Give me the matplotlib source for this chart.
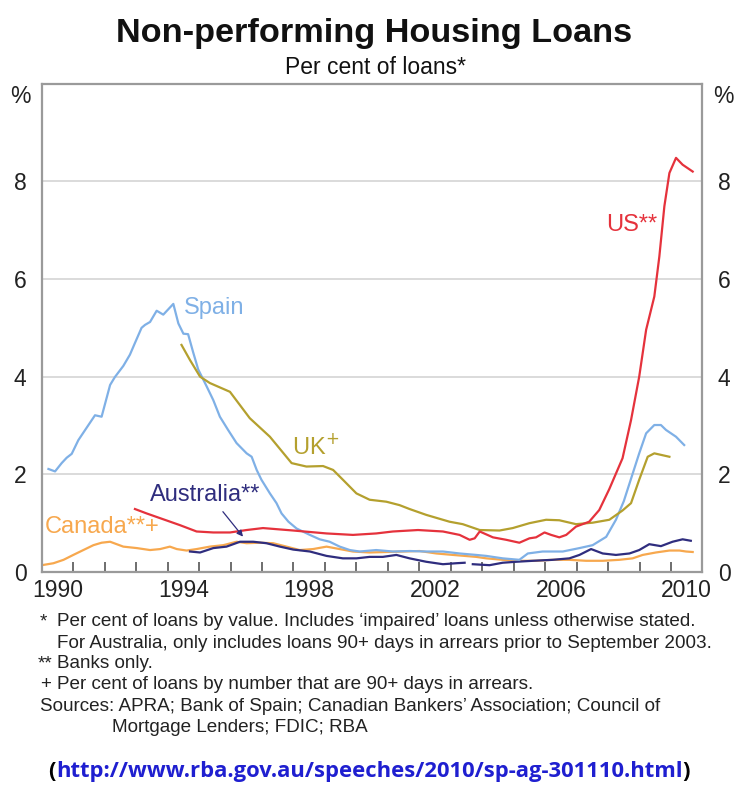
import numpy as np
import matplotlib.pyplot as plt
from matplotlib.ticker import FixedLocator, NullFormatter, FixedFormatter

plt.rcParams['font.family'] = ['Liberation Sans', 'DejaVu Sans']

# values (per cent of loans)
spain_years = [1990.21, 1990.42, 1990.63, 1990.79, 1990.95, 1991.16, 1991.43, 1991.69, 1991.90,
               1992.17, 1992.32, 1992.59, 1992.80, 1992.96, 1993.17, 1993.28, 1993.44, 1993.65,
               1993.86, 1994.18, 1994.34, 1994.50, 1994.65, 1994.81, 1994.97, 1995.24, 1995.45,
               1995.66, 1995.92, 1996.19, 1996.51, 1996.67, 1996.83, 1996.98, 1997.25, 1997.46,
               1997.62, 1997.84, 1998.10, 1998.52, 1998.83, 1999.15, 1999.47, 1999.79, 2000.10,
               2000.63, 2001.16, 2001.70, 2002.22, 2002.75, 2003.28, 2003.81, 2004.13, 2004.65,
               2005.18, 2005.45, 2005.92, 2006.56, 2007.09, 2007.51, 2007.94, 2008.25, 2008.50,
               2008.75, 2008.99, 2009.21, 2009.47, 2009.68, 2009.84, 2010.16, 2010.42]
spain_vals = [2.11, 2.06, 2.23, 2.34, 2.42, 2.70, 2.96, 3.21, 3.18,
              3.83, 3.99, 4.22, 4.45, 4.69, 5.00, 5.06, 5.12, 5.35,
              5.27, 5.49, 5.09, 4.88, 4.87, 4.50, 4.15, 3.80, 3.52,
              3.18, 2.91, 2.64, 2.43, 2.36, 2.09, 1.89, 1.61, 1.41,
              1.20, 1.03, 0.89, 0.76, 0.67, 0.62, 0.52, 0.45, 0.42,
              0.45, 0.42, 0.43, 0.42, 0.42, 0.38, 0.35, 0.33, 0.28,
              0.25, 0.38, 0.42, 0.42, 0.49, 0.55, 0.72, 1.07, 1.45,
              1.95, 2.43, 2.84, 3.01, 3.01, 2.91, 2.77, 2.60]

us_years = [1992.96, 1993.33, 1993.86, 1994.39, 1994.92, 1995.45, 1995.98, 1996.51, 1997.03,
            1997.99, 1999.05, 1999.89, 2000.63, 2001.16, 2001.96, 2002.75, 2003.28, 2003.60,
            2003.76, 2003.92, 2004.34, 2004.76, 2005.18, 2005.50, 2005.71, 2005.98, 2006.19,
            2006.45, 2006.67, 2006.98, 2007.40, 2007.72, 2008.04, 2008.46, 2008.73, 2008.99,
            2009.21, 2009.47, 2009.63, 2009.79, 2009.95, 2010.16, 2010.37, 2010.69]
us_vals = [1.29, 1.20, 1.08, 0.96, 0.83, 0.81, 0.81, 0.86, 0.90,
           0.85, 0.79, 0.76, 0.79, 0.83, 0.86, 0.83, 0.76, 0.66,
           0.69, 0.83, 0.71, 0.66, 0.60, 0.69, 0.71, 0.81, 0.76,
           0.71, 0.76, 0.93, 1.03, 1.27, 1.70, 2.33, 3.11, 4.00,
           4.96, 5.64, 6.46, 7.49, 8.17, 8.48, 8.34, 8.20]

uk_years = [1994.44, 1994.71, 1995.03, 1995.34, 1995.98, 1996.61, 1997.25, 1997.94, 1998.41,
            1998.94, 1999.26, 1999.57, 2000.00, 2000.42, 2000.95, 2001.37, 2001.69, 2002.22,
            2002.96, 2003.38, 2003.92, 2004.55, 2004.97, 2005.50, 2006.03, 2006.45, 2006.98,
            2007.51, 2008.04, 2008.46, 2008.73, 2008.99, 2009.26, 2009.47, 2009.95]
uk_vals = [4.65, 4.34, 4.00, 3.87, 3.69, 3.15, 2.77, 2.23, 2.16,
           2.17, 2.09, 1.89, 1.61, 1.48, 1.44, 1.37, 1.29, 1.17,
           1.03, 0.98, 0.86, 0.85, 0.90, 1.00, 1.07, 1.06, 0.98,
           1.01, 1.07, 1.26, 1.41, 1.89, 2.36, 2.43, 2.36]

canada_years = [1990.00, 1990.37, 1990.69, 1991.00, 1991.32, 1991.64, 1991.90, 1992.17, 1992.38,
                1992.59, 1993.02, 1993.44, 1993.76, 1994.07, 1994.29, 1994.60, 1994.92, 1995.34,
                1995.77, 1996.19, 1996.51, 1996.93, 1997.35, 1997.78, 1998.20, 1998.62, 1999.05,
                1999.47, 1999.89, 2000.42, 2000.95, 2001.48, 2002.01, 2002.54, 2003.07, 2003.81,
                2004.13, 2004.65, 2005.18, 2005.71, 2006.24, 2006.77, 2007.30, 2007.83, 2008.36,
                2008.78, 2009.10, 2009.52, 2009.95, 2010.27, 2010.48, 2010.69]
canada_vals = [0.14, 0.18, 0.25, 0.35, 0.45, 0.55, 0.60, 0.62, 0.57,
               0.52, 0.49, 0.45, 0.47, 0.52, 0.47, 0.44, 0.47, 0.52,
               0.55, 0.62, 0.59, 0.60, 0.59, 0.52, 0.45, 0.47, 0.52,
               0.47, 0.42, 0.40, 0.41, 0.42, 0.43, 0.38, 0.35, 0.31,
               0.28, 0.25, 0.23, 0.23, 0.25, 0.25, 0.23, 0.23, 0.25,
               0.28, 0.35, 0.40, 0.44, 0.44, 0.42, 0.41]

# series break in September 2003 (nan splits the line)
aus_years = [1994.71, 1995.03, 1995.45, 1995.87, 1996.30, 1996.72, 1997.14, 1997.57, 1997.99,
             1998.52, 1999.05, 1999.57, 2000.00, 2000.42, 2000.84, 2001.27, 2001.69, 2002.22,
             2002.75, 2003.17, 2003.44, 2003.57,
             2003.70, 2004.23, 2004.65, 2005.08, 2005.61, 2006.24, 2006.77, 2007.09, 2007.46,
             2007.83, 2008.25, 2008.68, 2008.99, 2009.31, 2009.68, 2010.05, 2010.37, 2010.63]
aus_vals = [0.42, 0.40, 0.49, 0.52, 0.62, 0.62, 0.59, 0.52, 0.46,
            0.42, 0.33, 0.28, 0.28, 0.31, 0.31, 0.35, 0.28, 0.21,
            0.16, 0.18, 0.19, np.nan,
            0.16, 0.14, 0.19, 0.21, 0.23, 0.25, 0.28, 0.35, 0.47,
            0.38, 0.35, 0.38, 0.45, 0.57, 0.53, 0.62, 0.67, 0.64]

year_labels = [1990, 1994, 1998, 2002, 2006, 2010]
y_ticks = [0, 2, 4, 6, 8]

c_spain = '#7fb0e6'
c_us = '#e5323c'
c_uk = '#b4a02e'
c_aus = '#2f2d7e'
c_can = '#f7a84e'
grey = '#9a9a9a'

fig = plt.figure(figsize=(7.34, 7.89), dpi=100)
ax = fig.add_axes([0.057, 0.275, 0.9, 0.619])

ax.plot(canada_years, canada_vals, color=c_can, lw=1.6)
ax.plot(aus_years, aus_vals, color=c_aus, lw=1.6)
ax.plot(spain_years, spain_vals, color=c_spain, lw=1.6)
ax.plot(uk_years, uk_vals, color=c_uk, lw=1.6)
ax.plot(us_years, us_vals, color=c_us, lw=1.6)

ax.set_xlim(1990, 2011)
ax.set_ylim(0, 10)

# year boundary ticks, labels centred mid-year
ax.xaxis.set_major_locator(FixedLocator(np.arange(1990, 2012)))
ax.xaxis.set_major_formatter(NullFormatter())
ax.xaxis.set_minor_locator(FixedLocator([y + 0.5 for y in year_labels]))
ax.xaxis.set_minor_formatter(FixedFormatter([str(y) for y in year_labels]))
ax.tick_params(axis='x', which='major', direction='in', length=7, width=1.2, color='#555555')
ax.tick_params(axis='x', which='minor', length=0, pad=5, labelsize=16.5, labelcolor='#222222')

ax.set_yticks(y_ticks)
ax.tick_params(axis='y', length=0, labelsize=16.5, labelcolor='#222222', pad=11,
               labelleft=True, labelright=True)
ax.grid(axis='y', color='#d8d8d8', lw=1.3)
ax.set_axisbelow(True)

for s in ax.spines.values():
    s.set_color(grey)
    s.set_linewidth(1.6)

ax.text(-0.033, 0.973, '%', transform=ax.transAxes, fontsize=16.5, color='#222222', ha='center', va='center')
ax.text(1.031, 0.973, '%', transform=ax.transAxes, fontsize=16.5, color='#222222', ha='center', va='center')

# series labels
ax.text(1994.5, 5.41, 'Spain', color=c_spain, fontsize=17, va='center')
ax.text(1997.95, 2.56, 'UK$^{+}$', color=c_uk, fontsize=17, va='center')
ax.text(2007.95, 7.11, 'US**', color=c_us, fontsize=17, va='center')
ax.text(1993.45, 1.58, 'Australia**', color=c_aus, fontsize=17, va='center')
ax.text(1990.1, 0.93, 'Canada**+', color=c_can, fontsize=17, va='center')
ax.annotate('', xy=(1996.45, 0.68), xytext=(1995.7, 1.28),
            arrowprops=dict(arrowstyle='-|>', color=c_aus, lw=0.9, mutation_scale=9))

fig.text(0.51, 0.958, 'Non-performing Housing Loans', ha='center', va='center',
         fontsize=24.7, fontweight='bold', color='#111111')
fig.text(0.511, 0.914, 'Per cent of loans*', ha='center', va='center', fontsize=16.5, color='#111111')

fs = 13.6
notes = [
    (0.054, 0.212, '*'),
    (0.077, 0.212, "Per cent of loans by value. Includes \u2018impaired\u2019 loans unless otherwise stated."),
    (0.077, 0.185, 'For Australia, only includes loans 90+ days in arrears prior to September 2003.'),
    (0.052, 0.159, '**'),
    (0.077, 0.159, 'Banks only.'),
    (0.054, 0.132, '+'),
    (0.077, 0.132, 'Per cent of loans by number that are 90+ days in arrears.'),
    (0.054, 0.105, "Sources: APRA; Bank of Spain; Canadian Bankers\u2019 Association; Council of"),
    (0.152, 0.078, 'Mortgage Lenders; FDIC; RBA'),
]
for x, y, s in notes:
    fig.text(x, y, s, fontsize=fs, va='center', color='#222222')

url = 'http://www.rba.gov.au/speeches/2010/sp-ag-301110.html'
t1 = fig.text(0.066, 0.022, '(', fontsize=15.8, fontweight='bold', family='Open Sans', va='center', color='black')
fig.canvas.draw()
bb = t1.get_window_extent()
t2 = fig.text(bb.x1 / fig.bbox.width, 0.022, url, fontsize=15.8, fontweight='bold', family='Open Sans',
              va='center', color='#1f1fd0')
fig.canvas.draw()
bb2 = t2.get_window_extent()
fig.text(bb2.x1 / fig.bbox.width, 0.022, ')', fontsize=15.8, fontweight='bold', family='Open Sans',
         va='center', color='black')

fig.savefig('out.png', dpi=100)
